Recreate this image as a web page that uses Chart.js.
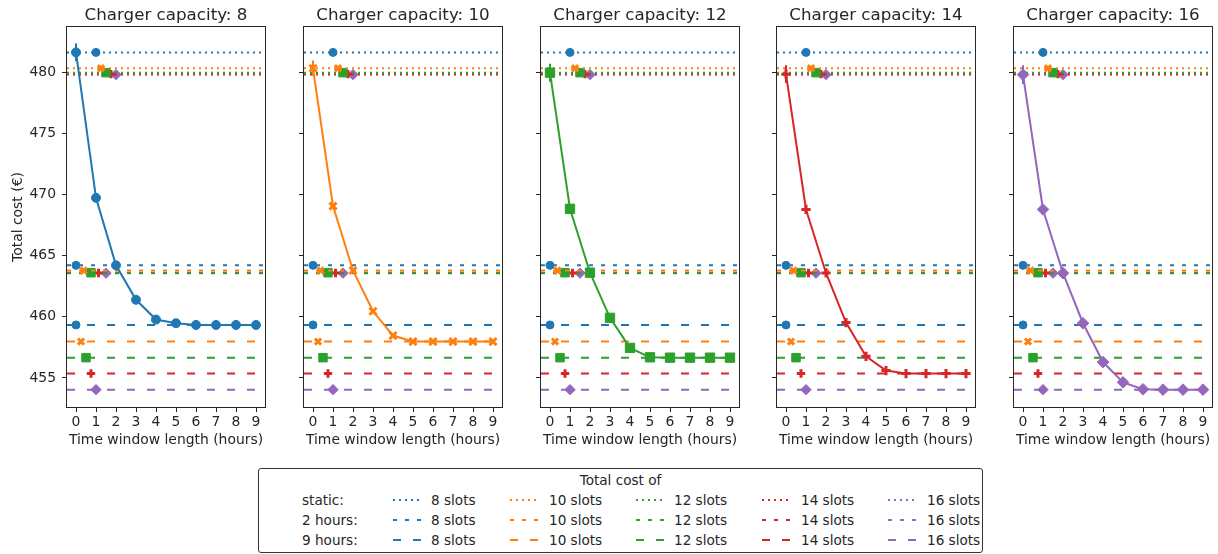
<!DOCTYPE html>
<html>
<head>
<meta charset="utf-8">
<script src="https://cdn.jsdelivr.net/npm/chart.js@4"></script>
<style>
  body { margin: 0; background: #fff; font-family: 'DejaVu Sans', sans-serif; color: #262626; }
  #fig { position: relative; width: 1218px; height: 554px; overflow: hidden; }
  #fig canvas { position: absolute; top: 0; }
  .ttl { position: absolute; top: 4px; width: 198px; text-align: center; font-size: 16.7px; line-height: 20px; white-space: nowrap; }
  #legend { position: absolute; left: 258px; top: 468px; width: 723px; height: 83px; border: 1px solid #333; border-radius: 3px; font-size: 13.6px; }
  #legend span { position: absolute; white-space: nowrap; line-height: 16px; }
  #legend svg { position: absolute; }
</style>
</head>
<body>
<div id="fig"></div>
<script>
// capacidad del cargador (slots) y longitud de ventana en horas
const capacities = [8, 10, 12, 14, 16];
const windowHours = [0, 1, 2, 3, 4, 5, 6, 7, 8, 9];

// coste total por longitud de ventana, una serie por capacidad
const cost8  = [481.66, 469.75, 464.22, 461.40, 459.78, 459.48, 459.34, 459.34, 459.34, 459.34];
const cost10 = [480.36, 469.07, 463.80, 460.46, 458.47, 457.98, 457.98, 457.98, 457.98, 457.98];
const cost12 = [480.00, 468.85, 463.62, 459.92, 457.46, 456.69, 456.66, 456.66, 456.66, 456.66];
const cost14 = [479.88, 468.80, 463.60, 459.53, 456.77, 455.60, 455.36, 455.36, 455.36, 455.36];
const cost16 = [479.84, 468.80, 463.58, 459.48, 456.30, 454.64, 454.07, 454.04, 454.04, 454.04];

// desviación del caso estático (barra de error en x = 0)
const staticSpread = [0.72, 0.64, 0.74, 0.72, 0.76];

// costes de referencia: estático, ventana de 2 horas y de 9 horas
const staticCost   = [481.66, 480.36, 480.00, 479.88, 479.84];
const twoHourCost  = [464.22, 463.80, 463.62, 463.60, 463.58];
const nineHourCost = [459.34, 457.98, 456.66, 455.36, 454.04];

// posición x del marcador sobre cada línea de referencia
const staticMarkX   = [1, 1.25, 1.5, 1.75, 2];
const twoHourMarkX  = [0, 0.375, 0.75, 1.125, 1.5];
const nineHourMarkX = [0, 0.25, 0.5, 0.75, 1];

const xTicks = [0, 1, 2, 3, 4, 5, 6, 7, 8, 9];
const yTicks = [455, 460, 465, 470, 475, 480];
const legendRows = ['static:', '2 hours:', '9 hours:'];

const costs = [cost8, cost10, cost12, cost14, cost16];
const colors = ['#1f77b4', '#ff7f0e', '#2ca02c', '#d62728', '#9467bd'];
const markers = ['circle', 'crossRot', 'rect', 'cross', 'rectRot'];
const markerRadius = [4.5, 5, 6.6, 4.6, 5.8];
const refRadius = [4, 4.4, 6, 4.2, 5.2];
const markerBorder = [1, 3, 1, 3, 1];
const dashes = [[2, 4], [4, 8], [8, 12]];

const X_MIN = -0.45, X_MAX = 9.45;
const Y_MIN = 452.62, Y_MAX = 483.74;
const FONT = 'DejaVu Sans';
const TXT = '#262626';
const axLeft = [67, 304, 541, 777, 1014];

// marco completo del área de dibujo (los cuatro lados)
const frame = {
  id: 'frame',
  afterDraw(chart) {
    const { ctx, chartArea: a } = chart;
    ctx.save();
    ctx.strokeStyle = TXT;
    ctx.lineWidth = 1;
    ctx.strokeRect(Math.round(a.left) - 0.5, Math.round(a.top) - 0.5,
      Math.round(a.right - a.left) + 1, Math.round(a.bottom - a.top) + 1);
    ctx.restore();
  }
};

const fig = document.getElementById('fig');

capacities.forEach((cap, i) => {
  const canvas = document.createElement('canvas');
  canvas.width = 273;
  canvas.height = 456;
  canvas.style.left = (axLeft[i] - 67) + 'px';
  fig.appendChild(canvas);

  const title = document.createElement('div');
  title.className = 'ttl';
  title.style.left = axLeft[i] + 'px';
  title.textContent = 'Charger capacity: ' + cap;
  fig.appendChild(title);

  const datasets = [];

  // curva principal
  datasets.push({
    data: windowHours.map((h, k) => ({ x: h, y: costs[i][k] })),
    borderColor: colors[i],
    backgroundColor: colors[i],
    borderWidth: 2,
    pointStyle: markers[i],
    pointRadius: markerRadius[i],
    pointBorderWidth: markerBorder[i],
    tension: 0
  });

  // barra de error en x = 0
  datasets.push({
    data: [{ x: 0, y: staticCost[i] - staticSpread[i] }, { x: 0, y: staticCost[i] + staticSpread[i] }],
    borderColor: colors[i],
    borderWidth: 2,
    pointRadius: 0
  });

  // líneas horizontales de referencia
  [[staticCost, staticMarkX], [twoHourCost, twoHourMarkX], [nineHourCost, nineHourMarkX]].forEach(([vals, markX], t) => {
    vals.forEach((v, j) => {
      datasets.push({
        data: [{ x: X_MIN, y: v }, { x: markX[j], y: v }, { x: X_MAX, y: v }],
        borderColor: colors[j],
        backgroundColor: colors[j],
        borderWidth: 2,
        borderDash: dashes[t],
        pointStyle: markers[j],
        pointRadius: [0, refRadius[j], 0],
        pointBorderWidth: markerBorder[j],
        tension: 0
      });
    });
  });

  new Chart(canvas, {
    type: 'line',
    data: { datasets },
    plugins: [frame],
    options: {
      responsive: false,
      animation: false,
      layout: { padding: { top: 27, right: 8, left: 0, bottom: 0 } },
      plugins: { legend: { display: false }, tooltip: { enabled: false } },
      scales: {
        x: {
          type: 'linear',
          min: X_MIN,
          max: X_MAX,
          afterBuildTicks: s => { s.ticks = xTicks.map(v => ({ value: v })); },
          afterFit: s => { s.height = 49; },
          grid: { drawOnChartArea: false, drawTicks: true, tickLength: 5, color: TXT },
          border: { display: false },
          ticks: { color: TXT, font: { family: FONT, size: 13.9 }, padding: 2, maxRotation: 0 },
          title: { display: true, text: 'Time window length (hours)', color: TXT,
                   font: { family: FONT, size: 13.9 }, padding: { top: 0, bottom: 7.5 } }
        },
        y: {
          type: 'linear',
          min: Y_MIN,
          max: Y_MAX,
          afterBuildTicks: s => { s.ticks = yTicks.map(v => ({ value: v })); },
          afterFit: s => { s.width = 67; },
          grid: { drawOnChartArea: false, drawTicks: true, tickLength: 5, color: TXT },
          border: { display: false },
          ticks: { color: TXT, font: { family: FONT, size: 13.9 }, padding: 6,
                   callback: v => (i === 0 ? String(v) : '') },
          title: { display: i === 0, text: 'Total cost (€)', color: TXT,
                   font: { family: FONT, size: 13.9 }, padding: { top: 10, bottom: 0 } }
        }
      }
    }
  });
});

// leyenda: filas por tipo de coste, columnas por capacidad
const legend = document.createElement('div');
legend.id = 'legend';
fig.appendChild(legend);

const head = document.createElement('span');
head.textContent = 'Total cost of';
head.style.left = '0px';
head.style.width = '100%';
head.style.textAlign = 'center';
head.style.top = '3px';
legend.appendChild(head);

const handleLeft = [134, 251, 377, 503, 629];
const textLeft = [172, 290, 415, 542, 668];

legendRows.forEach((row, r) => {
  const top = 23 + r * 20;
  const lab = document.createElement('span');
  lab.textContent = row;
  lab.style.left = '43px';
  lab.style.top = top + 'px';
  legend.appendChild(lab);

  capacities.forEach((cap, j) => {
    const svg = document.createElementNS('http://www.w3.org/2000/svg', 'svg');
    svg.setAttribute('width', '28');
    svg.setAttribute('height', '4');
    svg.style.left = handleLeft[j] + 'px';
    svg.style.top = (top + 6) + 'px';
    const ln = document.createElementNS('http://www.w3.org/2000/svg', 'line');
    ln.setAttribute('x1', '0'); ln.setAttribute('x2', '28');
    ln.setAttribute('y1', '2'); ln.setAttribute('y2', '2');
    ln.setAttribute('stroke', colors[j]);
    ln.setAttribute('stroke-width', '2');
    ln.setAttribute('stroke-dasharray', dashes[r].join(' '));
    svg.appendChild(ln);
    legend.appendChild(svg);

    const t = document.createElement('span');
    t.textContent = cap + ' slots';
    t.style.left = textLeft[j] + 'px';
    t.style.top = top + 'px';
    legend.appendChild(t);
  });
});
</script>
</body>
</html>
